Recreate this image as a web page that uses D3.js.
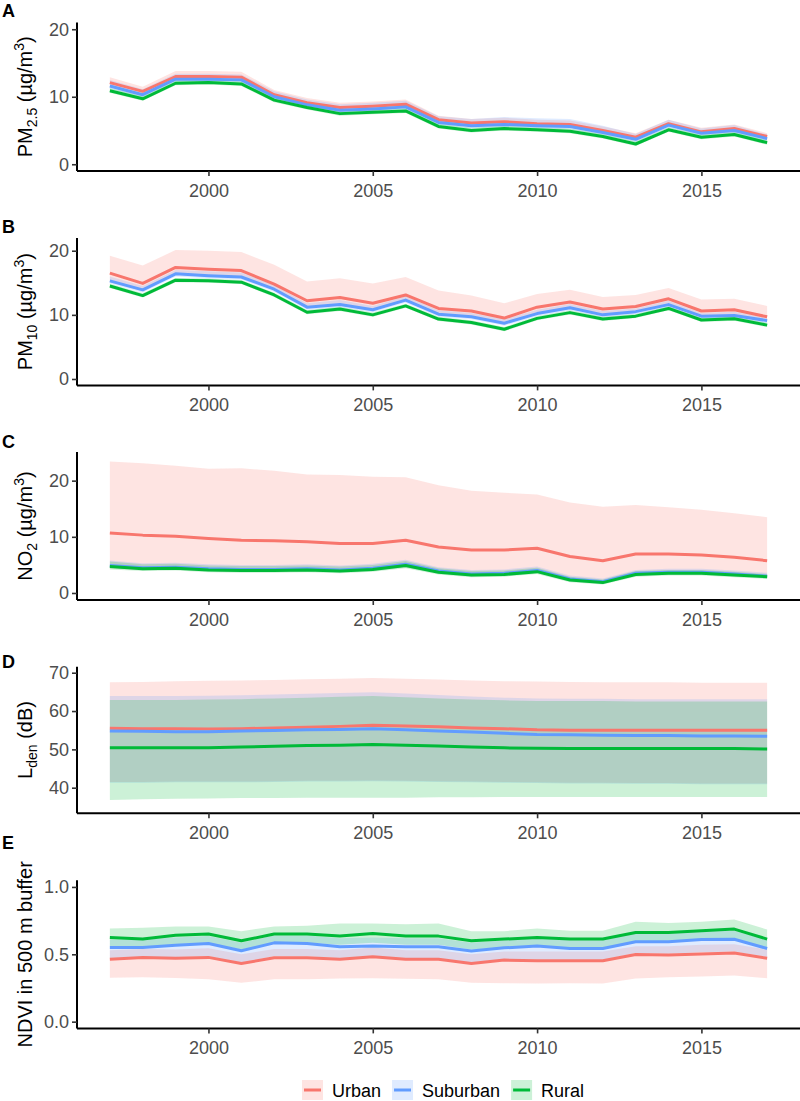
<!DOCTYPE html>
<html>
<head>
<meta charset="utf-8">
<script src="https://cdn.jsdelivr.net/npm/d3@7"></script>
<style>
  html, body { margin: 0; padding: 0; background: #fff; }
  svg { display: block; }
</style>
</head>
<body>
<svg id="chart" width="800" height="1101"></svg>
<script>
// ---------------- DATA ----------------
const years = [1997,1998,1999,2000,2001,2002,2003,2004,2005,2006,2007,2008,2009,2010,2011,2012,2013,2014,2015,2016,2017];
const groups = ["Urban", "Suburban", "Rural"];
const xTicks = [2000, 2005, 2010, 2015];

// Panel A: PM2.5
const pm25_urban    = [12.1,10.8,13.0,13.0,12.9,10.3,9.1,8.4,8.6,8.9,6.6,6.1,6.3,6.0,5.9,5.0,4.0,6.0,4.8,5.3,4.1];
const pm25_urban_hi = [12.9,11.5,13.8,13.8,13.7,11.0,9.8,9.1,9.3,9.6,7.2,6.7,6.9,6.6,6.5,5.6,4.6,6.6,5.4,5.9,4.6];
const pm25_urban_lo = [11.4,10.1,12.4,12.4,12.3,9.8,8.6,7.8,8.0,8.3,6.0,5.5,5.7,5.5,5.4,4.5,3.5,5.6,4.4,4.8,3.6];
const pm25_sub      = [11.6,10.3,12.6,12.6,12.5,10.0,8.8,8.0,8.2,8.5,6.2,5.7,5.9,5.7,5.6,4.7,3.7,5.8,4.6,5.0,3.8];
const pm25_sub_hi   = [12.5,11.1,13.4,13.4,13.3,10.8,9.6,8.9,9.1,9.4,7.1,6.7,7.0,6.8,6.7,5.7,4.5,6.6,5.3,5.8,4.4];
const pm25_sub_lo   = [11.2,9.9,12.2,12.2,12.1,9.6,8.4,7.6,7.8,8.1,5.8,5.3,5.5,5.3,5.2,4.3,3.3,5.4,4.2,4.6,3.4];
const pm25_rural    = [10.9,9.7,12.0,12.1,11.9,9.5,8.4,7.5,7.7,7.9,5.6,5.0,5.3,5.1,4.9,4.1,3.0,5.1,4.0,4.4,3.2];
const pm25_rural_hi = [11.3,10.1,12.4,12.5,12.3,9.9,8.8,7.9,8.1,8.3,6.0,5.4,5.7,5.5,5.3,4.5,3.4,5.5,4.4,4.8,3.6];
const pm25_rural_lo = [10.6,9.4,11.7,11.8,11.6,9.2,8.1,7.2,7.4,7.6,5.3,4.7,5.0,4.8,4.6,3.8,2.7,4.8,3.7,4.1,2.9];

// Panel B: PM10
const pm10_urban    = [16.5,14.9,17.4,17.1,16.9,14.8,12.2,12.7,11.8,13.1,11.0,10.6,9.5,11.2,12.0,10.9,11.3,12.5,10.6,10.8,9.7];
const pm10_urban_hi = [19.2,17.7,20.1,20.0,19.8,17.8,15.2,15.7,14.9,15.9,13.8,13.0,11.8,13.25,13.9,12.8,13.1,14.2,12.4,12.5,11.4];
const pm10_urban_lo = [15.1,13.7,16.3,16.0,15.8,13.9,11.1,11.5,10.7,12.2,10.0,9.6,8.6,10.1,11.0,9.9,10.4,11.5,9.7,9.8,9.0];
const pm10_sub      = [15.3,13.9,16.4,16.1,15.9,14.0,11.2,11.6,10.8,12.3,10.1,9.7,8.7,10.2,11.1,10.0,10.5,11.6,9.8,9.9,9.1];
const pm10_sub_hi   = [16.0,14.5,17.0,16.8,16.6,14.6,11.8,12.3,11.4,12.9,10.7,10.3,9.3,10.8,11.7,10.6,11.0,12.2,10.3,10.5,9.5];
const pm10_sub_lo   = [14.9,13.5,16.0,15.7,15.5,13.6,10.8,11.2,10.4,11.9,9.7,9.3,8.3,9.8,10.7,9.6,10.1,11.2,9.4,9.5,8.7];
const pm10_rural    = [14.5,13.0,15.4,15.3,15.1,13.1,10.4,10.9,10.0,11.4,9.35,8.8,7.75,9.45,10.35,9.35,9.8,11.0,9.2,9.4,8.4];
const pm10_rural_hi = [14.85,13.35,15.75,15.65,15.45,13.45,10.75,11.25,10.35,11.75,9.7,9.15,8.1,9.8,10.7,9.7,10.15,11.35,9.55,9.75,8.75];
const pm10_rural_lo = [14.2,12.7,15.1,15.0,14.8,12.8,10.1,10.6,9.7,11.1,9.05,8.5,7.45,9.15,10.05,9.05,9.5,10.7,8.9,9.1,8.1];

// Panel C: NO2
const no2_urban    = [10.7,10.3,10.1,9.7,9.4,9.3,9.1,8.8,8.8,9.4,8.2,7.65,7.65,7.95,6.5,5.75,6.95,6.95,6.75,6.35,5.75];
const no2_urban_hi = [23.4,23.1,22.65,22.1,22.2,21.75,21.1,21.0,20.7,20.6,19.2,18.2,17.85,17.55,16.1,15.35,15.65,15.25,14.8,14.2,13.5];
const no2_urban_lo = [4.4,4.1,4.2,3.9,3.8,3.8,3.9,3.7,4.0,4.6,3.5,3.0,3.1,3.6,2.1,1.7,3.1,3.3,3.3,3.0,2.7];
const no2_sub      = [4.9,4.5,4.6,4.3,4.2,4.2,4.3,4.1,4.4,5.1,3.9,3.4,3.5,4.0,2.5,2.0,3.5,3.7,3.7,3.4,3.0];
const no2_sub_hi   = [5.8,5.3,5.4,5.1,5.0,5.0,5.1,4.9,5.2,5.9,4.6,4.1,4.2,4.7,3.1,2.6,4.1,4.3,4.3,4.0,3.6];
const no2_sub_lo   = [4.5,4.1,4.2,3.9,3.8,3.8,3.9,3.7,4.0,4.6,3.5,3.0,3.1,3.6,2.1,1.7,3.1,3.3,3.3,3.0,2.7];
const no2_rural    = [4.7,4.3,4.4,4.1,4.0,4.0,4.1,3.9,4.2,4.9,3.7,3.2,3.3,3.8,2.3,1.85,3.3,3.5,3.5,3.2,2.9];
const no2_rural_hi = [5.6,5.1,5.2,4.9,4.8,4.8,4.9,4.7,5.0,5.7,4.4,3.9,4.0,4.5,2.9,2.4,3.9,4.1,4.1,3.8,3.4];
const no2_rural_lo = [4.2,3.9,4.0,3.7,3.6,3.6,3.7,3.5,3.8,4.4,3.3,2.8,2.9,3.4,1.9,1.5,2.9,3.1,3.1,2.8,2.5];

// Panel D: Lden
const lden_urban    = [55.5,55.4,55.4,55.3,55.4,55.6,55.8,56.0,56.3,56.1,55.9,55.6,55.4,55.1,55.0,55.0,55.0,55.0,55.0,55.0,55.0];
const lden_urban_hi = [67.5,67.6,67.8,67.9,68.0,68.1,68.3,68.4,68.6,68.4,68.2,68.0,67.8,67.7,67.6,67.5,67.5,67.5,67.4,67.4,67.4];
const lden_urban_lo = [41.5,41.5,41.6,41.6,41.6,41.7,41.8,41.8,41.9,41.8,41.7,41.6,41.5,41.4,41.3,41.3,41.2,41.2,41.1,41.1,41.1];
const lden_sub      = [54.8,54.7,54.6,54.6,54.8,54.9,55.1,55.2,55.4,55.1,54.8,54.5,54.2,53.9,53.8,53.7,53.6,53.6,53.5,53.5,53.4];
const lden_sub_hi   = [63.9,63.9,63.9,64.0,64.1,64.3,64.5,64.7,64.9,64.6,64.2,63.8,63.5,63.3,63.2,63.2,63.1,63.1,63.1,63.1,63.1];
const lden_sub_lo   = [41.3,41.3,41.4,41.4,41.4,41.5,41.6,41.6,41.7,41.6,41.5,41.4,41.3,41.2,41.1,41.1,41.0,41.0,40.9,40.9,40.9];
const lden_rural    = [50.4,50.4,50.4,50.4,50.6,50.8,51.0,51.1,51.3,51.1,50.9,50.6,50.4,50.3,50.2,50.2,50.2,50.2,50.2,50.2,50.1];
const lden_rural_hi = [62.9,62.9,62.9,63.0,63.1,63.3,63.5,63.7,63.9,63.6,63.3,63.0,62.8,62.6,62.6,62.6,62.5,62.5,62.5,62.5,62.5];
const lden_rural_lo = [36.8,37.0,37.1,37.2,37.3,37.3,37.4,37.4,37.4,37.4,37.5,37.5,37.6,37.6,37.6,37.6,37.6,37.6,37.6,37.6,37.6];

// Panel E: NDVI
const ndvi_urban    = [0.464,0.477,0.470,0.477,0.432,0.474,0.474,0.464,0.482,0.464,0.464,0.432,0.457,0.452,0.452,0.452,0.499,0.494,0.502,0.509,0.470];
const ndvi_urban_hi = [0.530,0.540,0.535,0.545,0.500,0.540,0.540,0.530,0.550,0.530,0.530,0.500,0.520,0.520,0.520,0.520,0.560,0.560,0.570,0.575,0.535];
const ndvi_urban_lo = [0.326,0.330,0.325,0.314,0.289,0.314,0.315,0.320,0.323,0.318,0.314,0.289,0.285,0.284,0.285,0.284,0.320,0.330,0.335,0.343,0.323];
const ndvi_sub      = [0.551,0.551,0.568,0.580,0.526,0.585,0.580,0.556,0.561,0.556,0.556,0.524,0.548,0.561,0.543,0.543,0.593,0.593,0.610,0.612,0.543];
const ndvi_sub_hi   = [0.610,0.610,0.625,0.635,0.585,0.640,0.640,0.620,0.625,0.620,0.620,0.585,0.605,0.620,0.605,0.605,0.655,0.655,0.670,0.675,0.605];
const ndvi_sub_lo   = [0.470,0.480,0.480,0.485,0.440,0.485,0.485,0.470,0.490,0.470,0.470,0.440,0.465,0.460,0.460,0.460,0.510,0.505,0.515,0.520,0.480];
const ndvi_rural    = [0.625,0.613,0.642,0.650,0.600,0.650,0.650,0.635,0.655,0.635,0.635,0.600,0.613,0.625,0.613,0.613,0.662,0.662,0.674,0.687,0.613];
const ndvi_rural_hi = [0.692,0.697,0.707,0.707,0.672,0.707,0.711,0.728,0.728,0.723,0.728,0.672,0.672,0.692,0.674,0.674,0.741,0.733,0.741,0.758,0.684];
const ndvi_rural_lo = [0.560,0.550,0.575,0.585,0.535,0.585,0.585,0.570,0.585,0.570,0.570,0.535,0.550,0.560,0.550,0.550,0.590,0.600,0.610,0.620,0.550];

const ticksA = [0, 10, 20];
const ticksB = [0, 10, 20];
const ticksC = [0, 10, 20];
const ticksD = [40, 50, 60, 70];
const ticksE = [0, 0.5, 1.0];

// ---------------- LAYOUT ----------------
const colors = { Urban: "#F8766D", Suburban: "#619CFF", Rural: "#00BA38" };
const FONT = "'Liberation Sans', Arial, Helvetica, sans-serif";
const TICK_FS = 18, TITLE_FS = 20, SUB_FS = 14;
const svg = d3.select("#chart");
const x = d3.scaleLinear().domain([1996, 2018]).range([77, 800]);

const panels = [
  { letter: "A", top: 22.5, bottom: 171, domain: [-1, 21], ticks: ticksA, fmt: d3.format("d"), letterY: 17,
    title: [["PM", 0], ["2.5", 1], [" (\u00b5g/m", 0], ["3", 2], [")", 0]],
    series: { Urban: [pm25_urban, pm25_urban_lo, pm25_urban_hi], Suburban: [pm25_sub, pm25_sub_lo, pm25_sub_hi], Rural: [pm25_rural, pm25_rural_lo, pm25_rural_hi] } },
  { letter: "B", top: 237.9, bottom: 385.4, domain: [-1, 22], ticks: ticksB, fmt: d3.format("d"), letterY: 233,
    title: [["PM", 0], ["10", 1], [" (\u00b5g/m", 0], ["3", 2], [")", 0]],
    series: { Urban: [pm10_urban, pm10_urban_lo, pm10_urban_hi], Suburban: [pm10_sub, pm10_sub_lo, pm10_sub_hi], Rural: [pm10_rural, pm10_rural_lo, pm10_rural_hi] } },
  { letter: "C", top: 452, bottom: 600, domain: [-1.25, 25.1], ticks: ticksC, fmt: d3.format("d"), letterY: 448,
    title: [["NO", 0], ["2", 1], [" (\u00b5g/m", 0], ["3", 2], [")", 0]],
    series: { Urban: [no2_urban, no2_urban_lo, no2_urban_hi], Suburban: [no2_sub, no2_sub_lo, no2_sub_hi], Rural: [no2_rural, no2_rural_lo, no2_rural_hi] } },
  { letter: "D", top: 666.7, bottom: 813.3, domain: [33.32, 71.57], ticks: ticksD, fmt: d3.format("d"), letterY: 668,
    title: [["L", 0], ["den", 1], [" (dB)", 0]],
    series: { Urban: [lden_urban, lden_urban_lo, lden_urban_hi], Suburban: [lden_sub, lden_sub_lo, lden_sub_hi], Rural: [lden_rural, lden_rural_lo, lden_rural_hi] } },
  { letter: "E", top: 880.2, bottom: 1028.4, domain: [-0.05, 1.05], ticks: ticksE, fmt: d3.format(".1f"), letterY: 849,
    title: [["NDVI in 500 m buffer", 0]],
    series: { Urban: [ndvi_urban, ndvi_urban_lo, ndvi_urban_hi], Suburban: [ndvi_sub, ndvi_sub_lo, ndvi_sub_hi], Rural: [ndvi_rural, ndvi_rural_lo, ndvi_rural_hi] } }
];

panels.forEach(p => {
  const y = d3.scaleLinear().domain(p.domain).range([p.bottom, p.top]);
  const g = svg.append("g");

  // ribbons
  groups.forEach(gr => {
    const [mid, lo, hi] = p.series[gr];
    const rows = years.map((yr, i) => ({ yr, lo: lo[i], hi: hi[i] }));
    g.append("path")
      .datum(rows)
      .attr("fill", colors[gr])
      .attr("fill-opacity", 0.2)
      .attr("d", d3.area().x(d => x(d.yr)).y0(d => y(d.lo)).y1(d => y(d.hi)));
  });
  // lines
  groups.forEach(gr => {
    const [mid] = p.series[gr];
    const rows = years.map((yr, i) => ({ yr, v: mid[i] }));
    g.append("path")
      .datum(rows)
      .attr("fill", "none")
      .attr("stroke", colors[gr])
      .attr("stroke-width", 3)
      .attr("stroke-linejoin", "round")
      .attr("d", d3.line().x(d => x(d.yr)).y(d => y(d.v)));
  });

  // y axis
  const yAxis = g.append("g").attr("transform", `translate(${x(1996)},0)`)
    .call(d3.axisLeft(y).tickValues(p.ticks).tickFormat(p.fmt).tickSize(5).tickPadding(3));
  yAxis.select(".domain").attr("d", `M0,${p.bottom}V${p.top}`).attr("stroke", "#000").attr("stroke-width", 2);
  yAxis.selectAll(".tick line").attr("stroke", "#333").attr("stroke-width", 1.6);
  yAxis.selectAll(".tick text").attr("fill", "#4d4d4d").style("font-family", FONT).style("font-size", TICK_FS + "px");

  // x axis
  const xAxis = g.append("g").attr("transform", `translate(0,${p.bottom})`)
    .call(d3.axisBottom(x).tickValues(xTicks).tickFormat(d3.format("d")).tickSize(5).tickPadding(8));
  xAxis.select(".domain").attr("d", `M${x(1996)},0H${x(2018)}`).attr("stroke", "#000").attr("stroke-width", 2);
  xAxis.selectAll(".tick line").attr("stroke", "#333").attr("stroke-width", 1.6);
  xAxis.selectAll(".tick text").attr("fill", "#4d4d4d").style("font-family", FONT).style("font-size", TICK_FS + "px");

  // y title
  const cy = (p.top + p.bottom) / 2;
  const t = svg.append("text")
    .attr("transform", `translate(32,${cy}) rotate(-90)`)
    .attr("text-anchor", "middle")
    .style("font-family", FONT).style("font-size", TITLE_FS + "px").attr("fill", "#000");
  let cur = 0;
  p.title.forEach(([s, kind]) => {
    const target = kind === 1 ? 5 : kind === 2 ? -8 : 0;
    t.append("tspan").attr("dy", target - cur)
      .style("font-size", (kind ? SUB_FS : TITLE_FS) + "px").text(s);
    cur = target;
  });

  // panel letter
  svg.append("text").attr("x", 2).attr("y", p.letterY)
    .style("font-family", FONT).style("font-size", "18px").style("font-weight", "bold")
    .attr("fill", "#000").text(p.letter);
});

// ---------------- LEGEND ----------------
const leg = svg.append("g");
const legY = 1080;
let lx = 302;
groups.forEach(gr => {
  const item = leg.append("g").attr("transform", `translate(${lx},${legY})`);
  item.append("rect").attr("width", 21).attr("height", 20)
    .attr("fill", colors[gr]).attr("fill-opacity", 0.2);
  item.append("line").attr("x1", 2).attr("x2", 19).attr("y1", 10).attr("y2", 10)
    .attr("stroke", colors[gr]).attr("stroke-width", 3);
  const tx = item.append("text").attr("x", 30).attr("y", 16.5)
    .style("font-family", FONT).style("font-size", TICK_FS + "px").attr("fill", "#000").text(gr);
  lx += 30 + tx.node().getComputedTextLength() + 11;
});
</script>
</body>
</html>
